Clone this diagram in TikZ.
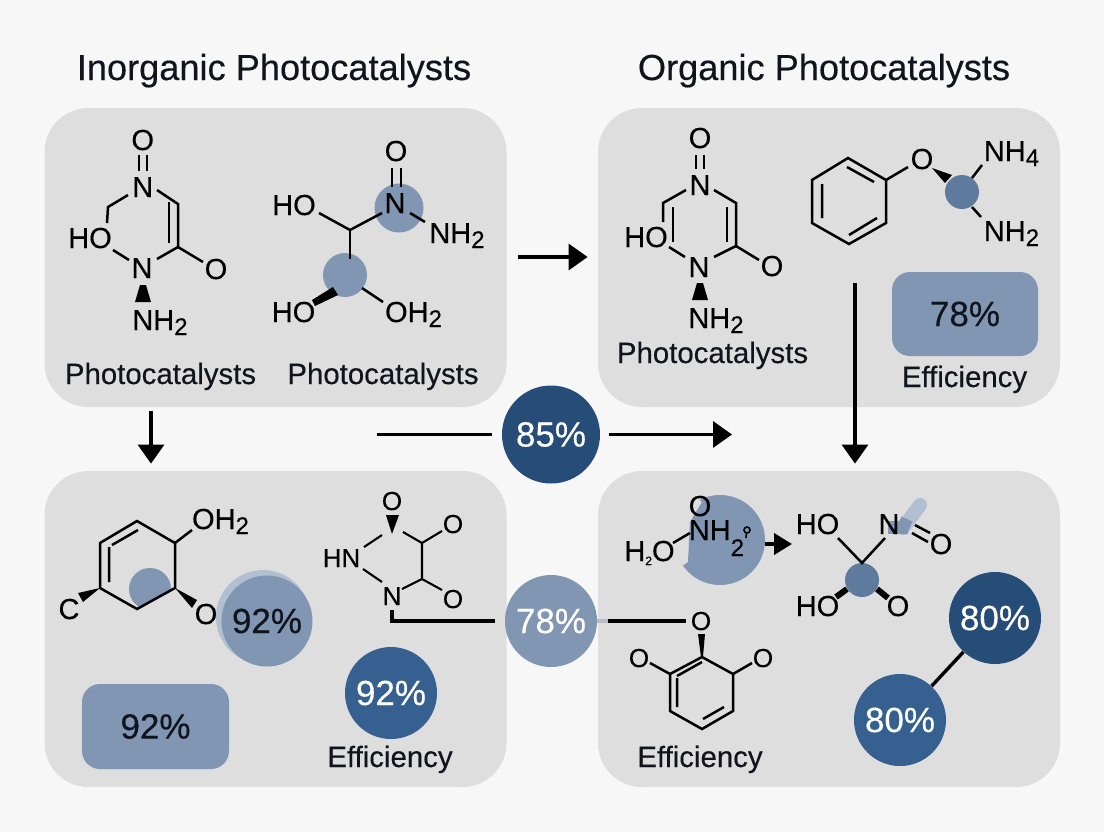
\documentclass[tikz,border=0pt]{standalone}
\usepackage{fontspec}
\setmainfont{Liberation Sans}[RawFeature={embolden=0.3}]
\usetikzlibrary{arrows.meta,calc}
\definecolor{pagebg}{HTML}{F7F7F7}
\definecolor{panelc}{HTML}{DEDEDF}
\definecolor{midc}{HTML}{8096B3}
\definecolor{lightc}{HTML}{B2BFD1}
\definecolor{deepc}{HTML}{5E7A9C}
\definecolor{navyc}{HTML}{264C78}
\definecolor{bluec}{HTML}{35608F}
\definecolor{inkc}{HTML}{10141C}
\definecolor{stubc}{HTML}{B8BDC3}
\newcommand\sbs[1]{\raisebox{-2.5pt}{\fontsize{12}{12}\selectfont #1}}
\tikzset{
  x=0.5pt,y=-0.5pt,
  panel/.style={fill=panelc,rounded corners=22pt,minimum width=231pt,inner sep=0pt},
  heading/.style={font=\fontsize{18.1}{20}\selectfont,text=inkc,anchor=base,inner sep=0pt},
  caption/.style={font=\fontsize{14.7}{16}\selectfont,text=inkc,anchor=base,inner sep=0pt},
  atom/.style={font=\fontsize{14.5}{16}\selectfont,text=black,anchor=base,inner sep=0pt},
  atomsm/.style={font=\fontsize{13}{14}\selectfont,text=black,anchor=base,inner sep=0pt},
  bond/.style={draw=black,line width=1.25pt},
  wedge/.style={fill=black},
  conn/.style={draw=black,line width=1.7pt},
  arr/.style={conn,-{Triangle[length=9.5pt,width=13pt]}},
  badge/.style={circle,minimum size=92pt/2,inner sep=0pt,font=\fontsize{17.5}{19}\selectfont},
  badgew/.style={badge,text=white},
  badgek/.style={badge,text=inkc},
  pctbox/.style={fill=midc,rounded corners=9pt,inner sep=0pt,text=inkc,font=\fontsize{17.5}{19}\selectfont},
}
\begin{document}
\begin{tikzpicture}
\useasboundingbox (0,0) rectangle (1104,832);
\fill[pagebg] (0,0) rectangle (1104,832);
% panels
\node[panel,minimum height=149.5pt] (tl) at (275.5,257.5) {};
\node[panel,minimum height=149.5pt] (tr) at (829,257.5) {};
\node[panel,minimum height=158pt] (bl) at (275.5,629) {};
\node[panel,minimum height=158pt] (br) at (829,629) {};
% headings
\node[heading] (h1) at (274,80) {Inorganic Photocatalysts};
\node[heading] (h2) at (824,80) {Organic Photocatalysts};
% ---------- top left, molecule 1
\node[atom] (a1) at (142.7,150) {O};
\node[atom] (a2) at (142.7,197) {N};
\node[atom] (a3) at (90,248) {HO};
\node[atom] (a4) at (142,278) {N};
\node[atom] (a5) at (216,279) {O};
\node[atom] (a6) at (160,330) {NH\sbs{2}};
\draw[bond] (139,155)--(139,171) (147,155)--(147,171);
\draw[bond] (128,195)--(108,207)--(107,223);
\draw[bond] (113,250)--(129,260);
\draw[bond] (157,190)--(178,204)--(178,247)--(157,259);
\draw[bond] (169,202)--(169,243);
\draw[bond] (178,247)--(203,262);
\fill[wedge] (140,285)--(146,285)--(151,302)--(135,302)--cycle;
% ---------- top left, molecule 2
\fill[midc] (399,208) circle (24.5);
\fill[midc] (345,275) circle (22);
\node[atom] (b1) at (396,161) {O};
\node[atom] (b2) at (395,213) {N};
\node[atom] (b3) at (294,215) {HO};
\node[atom] (b4) at (457,243) {NH\sbs{2}};
\node[atom] (b5) at (293.5,322) {HO};
\node[atom] (b6) at (413.5,322) {OH\sbs{2}};
\draw[bond] (392,168)--(392,187) (401,168)--(401,187);
\draw[bond] (319,213)--(350,230)--(382,213);
\draw[bond] (410,213)--(425,222);
\draw[bond] (350,230)--(350,259);
\draw[bond] (362,288)--(383,302);
\fill[wedge] (333,287)--(338,295)--(315,306)--(312,300)--cycle;
\node[caption] (c1) at (160.5,384) {Photocatalysts};
\node[caption] (c2) at (383,384) {Photocatalysts};
% ---------- top right, molecule 1
\node[atom] (d1) at (700,148) {O};
\node[atom] (d2) at (700,195) {N};
\node[atom] (d3) at (646,247) {HO};
\node[atom] (d4) at (699,277) {N};
\node[atom] (d5) at (772,276) {O};
\node[atom] (d6) at (716,328) {NH\sbs{2}};
\draw[bond] (696,155)--(696,169) (704,155)--(704,169);
\draw[bond] (686,190)--(663,203)--(663,222);
\draw[bond] (673,207)--(673,242);
\draw[bond] (669,247)--(685,257);
\draw[bond] (714,190)--(736,203)--(736,246)--(714,257);
\draw[bond] (727,207)--(727,242);
\draw[bond] (736,246)--(759,260);
\fill[wedge] (697,283)--(703,283)--(708,300)--(692,300)--cycle;
\node[caption] (d7) at (712.5,363) {Photocatalysts};
% ---------- top right, benzene
\draw[bond,line join=miter] (848,158)--(886,180)--(886,223)--(849,244)--(812,223)--(812,180)--cycle;
\draw[bond] (847,167)--(874,182) (822,184)--(822,218) (849,235)--(877,218);
\draw[bond] (886,180)--(908,167);
\fill[wedge] (932,168)--(952,175)--(945,183)--cycle;
\fill[deepc] (962,192) circle (17);
\draw[bond] (972,178)--(982,165) (972,207)--(981,217);
\node[atom] (e1) at (922,169) {O};
\node[atom] (e2) at (1011.5,161) {NH\sbs{4}};
\node[atom] (e3) at (1011.5,241) {NH\sbs{2}};
\node[pctbox,minimum width=73pt,minimum height=42pt] (e4) at (965,314) {78\%};
\node[caption] (e5) at (964.5,387) {Efficiency};
% ---------- bottom left, molecule 1
\begin{scope}
\clip (137,521)--(175,543)--(175,588)--(137,609)--(100,588)--(100,543)--cycle;
\fill[midc] (150,589) circle (21);
\end{scope}
\draw[bond,line join=miter] (137,521)--(175,543)--(175,588)--(137,609)--(100,588)--(100,543)--cycle;
\draw[bond] (112,545)--(138,530) (109,547)--(109,582);
\draw[bond] (175,543)--(192,530);
\fill[wedge] (175,588)--(197,600)--(192,608)--cycle;
\fill[wedge] (100,588)--(83,602)--(78,593)--cycle;
\node[atom] (f1) at (220.5,529) {OH\sbs{2}};
\node[atom] (f2) at (206,624) {O};
\node[atom] (f3) at (69,619) {C};
\fill[lightc] (263,617) circle (47);
\node[badgek,fill=midc,minimum size=45.5pt] (f4) at (267,621) {92\%};
\node[pctbox,minimum width=73.5pt,minimum height=42.5pt] (f5) at (155.5,726.5) {92\%};
% ---------- bottom left, molecule 2
\node[atomsm] (g1) at (392,510) {O};
\node[atomsm] (g2) at (341.5,567) {HN};
\node[atomsm] (g3) at (392,605) {N};
\node[atomsm] (g4) at (453,533) {O};
\node[atomsm] (g5) at (453,608) {O};
\fill[wedge] (386,515)--(399,515)--(392,534)--cycle;
\draw[bond,line width=1.05pt] (364,547)--(382,535) (363,569)--(382,582);
\draw[bond,line width=1.05pt] (403,532)--(422,543)--(422,579)--(402,589);
\draw[bond,line width=1.05pt] (422,543)--(442,531) (422,579)--(442,590);
\node[badgew,fill=bluec] (g6) at (391,693) {92\%};
\node[caption] (g7) at (390,767) {Efficiency};
% ---------- centre badges and connectors
\node[badgew,fill=midc] (n78) at (551,621) {78\%};
\node[badgew,fill=navyc,minimum size=49pt] (n85) at (551,434.5) {85\%};
\node[atomsm] (p1) at (701,630) {O};
\draw[conn] ([yshift=-2.5pt]g3.south) |- ([xshift=-5pt]n78.west);
\draw[stubc,line width=1.7pt] (n78.east) -- ++(11,0);
\draw[conn,shorten <=5.5pt,shorten >=2pt] (n78.east) -- (n78.east -| p1.west);
\coordinate (m1) at (377,434.5);
\coordinate (m2) at (732,434.5);
\draw[conn,shorten >=5pt] (m1) -- (n85.west);
\draw[arr,shorten <=4.5pt] (n85.east) -- (m2);
\coordinate (ax) at (151,0);
\draw[arr,shorten <=2pt,shorten >=3.5pt] (tl.south -| ax) -- (bl.north -| ax);
\coordinate (ay) at (0,257);
\draw[arr,shorten <=5.5pt,shorten >=5pt] (tl.east |- ay) -- (tr.west |- ay);
\coordinate (v1) at (855,283);
\draw[arr,shorten >=3.5pt] (v1) -- (br.north -| v1);
% ---------- bottom right, first molecule
\begin{scope}
\clip (695,495)--(770,495)--(770,592)--(675,592)--(681,567)--(688,562)--(690,522)--(702,502)--cycle;
\fill[midc] (720,540) circle (45);
\end{scope}
\node[atom] (q1) at (700,516) {O};
\node[atom] (q2) at (716.5,540) {NH\raisebox{-8pt}{\fontsize{12}{12}\selectfont 2}};
\node[atom] (q3) at (649.5,561) {H\raisebox{-2pt}{\fontsize{6}{6}\selectfont 2}O};
\draw[bond] (673,543)--(690,533);
\draw[line width=0.8pt] (747,530) circle (3) (746.5,533)--(746,538);
\coordinate (qa) at (765,544);
\coordinate (qb) at (792,544);
\draw[line width=2pt,-{Triangle[length=9pt,width=10.5pt]}] (qa) -- (qb);
% ---------- bottom right, second molecule
\draw[line width=7pt,lightc,line cap=round] (920,505)--(903,528);
\fill[midc] (888,521) rectangle (908,534);
\draw[line width=6pt,midc] (907,519)--(901,532);
\fill[deepc] (862,580) circle (17);
\node[atom] (r1) at (817.5,534) {HO};
\node[atom] (r2) at (889,534) {N};
\node[atom] (r3) at (941,554) {O};
\node[atom] (r4) at (817.5,616) {HO};
\node[atom] (r5) at (898,616) {O};
\draw[bond] (838,538)--(862,563)--(885,538);
\draw[bond] (915,525)--(930,533) (912,533)--(928,542);
\draw[line width=3pt] (847,589)--(836,597) (877,589)--(888,598);
% ---------- bottom right, phenol
\node[atomsm] (s2) at (639,667) {O};
\node[atomsm] (s3) at (763,667) {O};
\fill[wedge] (698,634)--(705,634)--(703,657)--(701,657)--cycle;
\draw[bond,line join=miter] (702,657)--(733,674)--(733,711)--(702,729)--(670,711)--(670,674)--cycle;
\draw[bond] (677,676)--(702,662) (677,678)--(677,707) (703,719)--(724,707);
\draw[bond] (650,663)--(670,674) (733,674)--(752,663);
\node[caption] (s4) at (700,767) {Efficiency};
% ---------- 80% badges
\node[badgew,fill=navyc] (t1) at (995,618) {80\%};
\node[badgew,fill=bluec] (t2) at (900,720) {80\%};
\draw[conn] (t1) -- (t2);
\end{tikzpicture}
\end{document}
